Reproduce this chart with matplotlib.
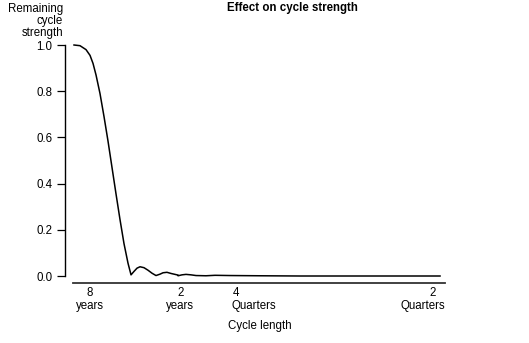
import numpy as np
from matplotlib import pyplot as plt
from matplotlib import transforms

plt.rcParams['font.family'] = ['Liberation Sans', 'DejaVu Sans']

# frequency (cycles per quarter, 0.5 = 2 quarters) and remaining strength
freq = [0.0, 0.0082, 0.0164, 0.0219, 0.026, 0.0301, 0.0355, 0.041, 0.0464,
        0.0519, 0.0574, 0.0628, 0.0683, 0.0738, 0.0779, 0.082, 0.0861, 0.0902,
        0.0956, 0.1011, 0.1066, 0.112, 0.1175, 0.1216, 0.127, 0.1325, 0.1421,
        0.1421, 0.1475, 0.153, 0.1598, 0.1667, 0.1803, 0.1926, 0.2131, 0.2541,
        0.3087, 0.5]
strength = [1.0, 0.997, 0.98, 0.955, 0.92, 0.87, 0.79, 0.69, 0.585,
            0.47, 0.355, 0.245, 0.14, 0.055, 0.005, 0.02, 0.034, 0.04,
            0.036, 0.025, 0.012, 0.002, 0.008, 0.014, 0.016, 0.011, 0.004,
            0.001, 0.005, 0.007, 0.005, 0.002, 0.001, 0.003, 0.002, 0.001,
            0.0, 0.0]

num_pos = [0.022, 0.145, 0.221, 0.490]
num_labels = ['8', '2', '4', '2']
word_pos = [0.022, 0.145, 0.245, 0.477]
word_labels = ['years', 'years', 'Quarters', 'Quarters']

fig = plt.figure(figsize=(5.29, 3.43), dpi=100)
ax = fig.add_axes([65 / 529, 60 / 343, 380 / 529, 238 / 343])

ax.plot(freq, strength, color='black', lw=1.1, clip_on=False)

ax.set_xlim(-0.0123, 0.5068)
ax.set_ylim(-0.0303, 1.0)

for s in ['top', 'right']:
    ax.spines[s].set_visible(False)
ax.spines['left'].set_bounds(0, 1)
ax.spines['bottom'].set_bounds(-0.0014, 0.5068)
ax.spines['left'].set_linewidth(1.0)
ax.spines['bottom'].set_linewidth(1.3)
ax.spines['bottom'].set_color('#333333')

ax.set_yticks(np.arange(0, 1.01, 0.2))
ax.set_yticklabels(['%.1f' % v for v in np.arange(0, 1.01, 0.2)])
ax.tick_params(axis='y', direction='out', length=6, width=0.9, pad=3, labelsize=8.3)

ax.set_xticks(num_pos, num_labels)
ax.tick_params(axis='x', length=0, labelsize=8.3, pad=3)

# second line of the x labels
trans = transforms.blended_transform_factory(ax.transData, fig.transFigure)
for x, w in zip(word_pos, word_labels):
    ax.text(x, 1 - 306 / 343, w, transform=trans, ha='center', va='center', fontsize=8.3)

fig.text(260 / 529, 1 - 326 / 343, 'Cycle length', ha='center', va='center', fontsize=8.3)
fig.text(292 / 529, 1 - 8 / 343, 'Effect on cycle strength', ha='center', va='center',
         fontsize=8.3, fontweight='bold')
fig.text(63 / 529, 1 - 3 / 343, 'Remaining\ncycle\nstrength', ha='right', va='top',
         fontsize=8.3, linespacing=1.02, multialignment='right')

plt.savefig('out.png', dpi=100)
